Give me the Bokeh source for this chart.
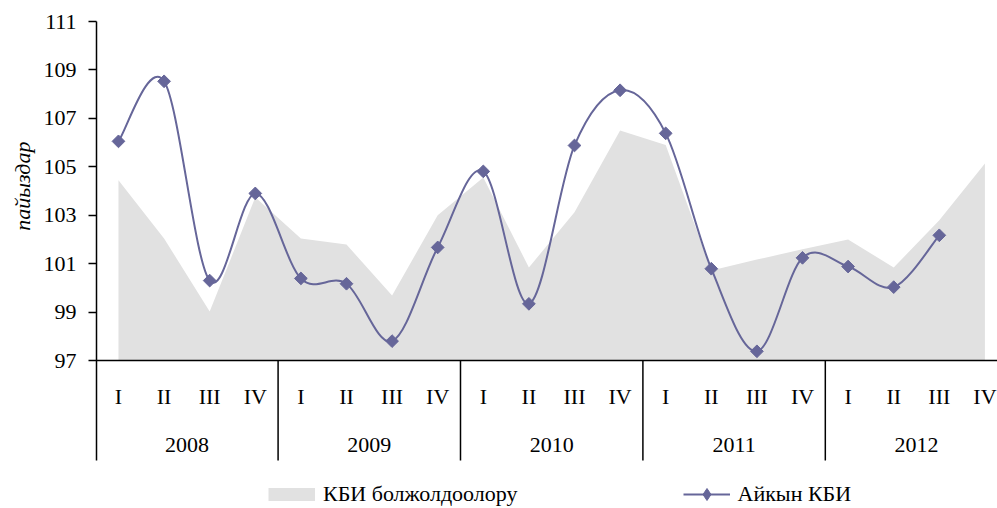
import numpy as np
from bokeh.plotting import figure
from bokeh.models import Range1d, FixedTicker, Span, Legend, LegendItem, Title
from bokeh.core.properties import value
from bokeh.embed import file_html
from bokeh.resources import INLINE

years = ["2008", "2009", "2010", "2011", "2012"]
quarters = ["I", "II", "III", "IV"]
forecast = [104.44, 102.04, 99.02, 103.74, 102.04, 101.79, 99.68, 103.0,
            104.56, 100.84, 103.12, 106.5, 105.9, 100.72, 101.17, 101.59,
            102.0, 100.84, 102.79, 105.14]
actual = [106.05, 108.53, 100.3, 103.9, 100.39, 100.17, 97.8, 101.67,
          104.81, 99.34, 105.88, 108.16, 106.38, 100.79, 97.38, 101.24,
          100.88, 100.03, 102.17]
y_ticks = [97, 99, 101, 103, 105, 107, 109, 111]
forecast_name = "КБИ болжолдоолору"
actual_name = "Айкын КБИ"
y_title = "пайыздар"

FONT = "Liberation Serif"
FS = "22px"
LINE_COLOR = "#666699"
AREA_COLOR = "#e1e1e1"

n = len(forecast)
xf = np.arange(n)
xa = np.arange(len(actual))
base = y_ticks[0]
Y_TABLE = 92.87      # bottom of the category table
Y_BOTTOM = 90.888    # bottom of the canvas

p = figure(width=997, height=508, output_backend="svg", toolbar_location=None,
           x_axis_type=None,
           x_range=Range1d(-0.482, 19.276), y_range=Range1d(Y_BOTTOM, 111.0),
           min_border_left=96, min_border_top=21, min_border_right=0, min_border_bottom=0)
p.outline_line_color = None
p.grid.visible = False
p.background_fill_color = "white"

yax = p.yaxis[0]
yax.ticker = FixedTicker(ticks=y_ticks)
yax.bounds = (Y_TABLE, 111.0)
yax.minor_tick_line_color = None
yax.major_tick_in = 0
yax.major_tick_out = 8
yax.major_tick_line_width = 1.5
yax.axis_line_width = 1.5
yax.major_label_standoff = 12
yax.major_label_text_font = FONT
yax.major_label_text_font_size = FS
yax.major_label_text_color = "black"

# forecast area
area = p.varea(x=xf, y1=[base] * n, y2=forecast, fill_color=AREA_COLOR)
# legend-only swatch for the area (drawn as a thick bar in the legend)
area_key = p.line(x=xf, y=forecast, line_color=AREA_COLOR, line_width=13,
                  line_cap="butt", visible=False)

# smoothed actual line via Bezier segments (Catmull-Rom control points)
ya = np.array(actual)
m = len(ya)
x0, y0, x1, y1, cx0, cy0, cx1, cy1 = [], [], [], [], [], [], [], []
for i in range(m - 1):
    im1 = max(i - 1, 0)
    ip2 = min(i + 2, m - 1)
    x0.append(xa[i]); y0.append(ya[i]); x1.append(xa[i + 1]); y1.append(ya[i + 1])
    cx0.append(xa[i] + (xa[i + 1] - xa[im1]) / 6.0)
    cy0.append(ya[i] + (ya[i + 1] - ya[im1]) / 6.0)
    cx1.append(xa[i + 1] - (xa[ip2] - xa[i]) / 6.0)
    cy1.append(ya[i + 1] - (ya[ip2] - ya[i]) / 6.0)
bez = p.bezier(x0=x0, y0=y0, x1=x1, y1=y1, cx0=cx0, cy0=cy0, cx1=cx1, cy1=cy1,
               line_color=LINE_COLOR, line_width=2)
mk = p.scatter(x=xa, y=ya, marker="square", angle=np.pi / 4, size=9,
               fill_color=LINE_COLOR, line_color=LINE_COLOR)
# legend-only diamond marker
mk_key = p.scatter(x=xa, y=ya, marker="diamond", fill_color=LINE_COLOR,
                   line_color=LINE_COLOR, visible=False)

# base line and table separators
p.add_layout(Span(location=base, dimension="width", line_color="black", line_width=1.5))
seps = [4 * k - 0.5 for k in range(1, len(years))]
p.segment(x0=seps, y0=[base] * len(seps), x1=seps, y1=[Y_TABLE] * len(seps),
          line_color="black", line_width=1.5)

# quarter and year labels
qlab = [q for _ in years for q in quarters]
p.text(x=np.arange(len(qlab)), y=[95.51] * len(qlab), text=qlab,
       text_font=value(FONT), text_font_size=FS, text_align="center",
       text_baseline="middle", text_color="black")
p.text(x=[4 * k + 1.5 for k in range(len(years))], y=[93.49] * len(years), text=years,
       text_font=value(FONT), text_font_size=FS, text_align="center",
       text_baseline="middle", text_color="black")

# y title as a left-side title
p.add_layout(Title(text=y_title, align="right", offset=120, standoff=12,
                   text_font=FONT, text_font_size=FS, text_font_style="italic",
                   text_color="black"), "left")

legend = Legend(items=[LegendItem(label=forecast_name, renderers=[area_key]),
                       LegendItem(label=actual_name, renderers=[bez, mk_key])],
                orientation="horizontal", location=(172, -1),
                glyph_width=47, glyph_height=30, label_standoff=8, spacing=165,
                padding=0, margin=0, border_line_color=None, background_fill_alpha=0,
                label_text_font=FONT, label_text_font_size=FS, label_text_color="black")
p.add_layout(legend, "center")

open("out.html", "w").write(file_html(p, INLINE))
